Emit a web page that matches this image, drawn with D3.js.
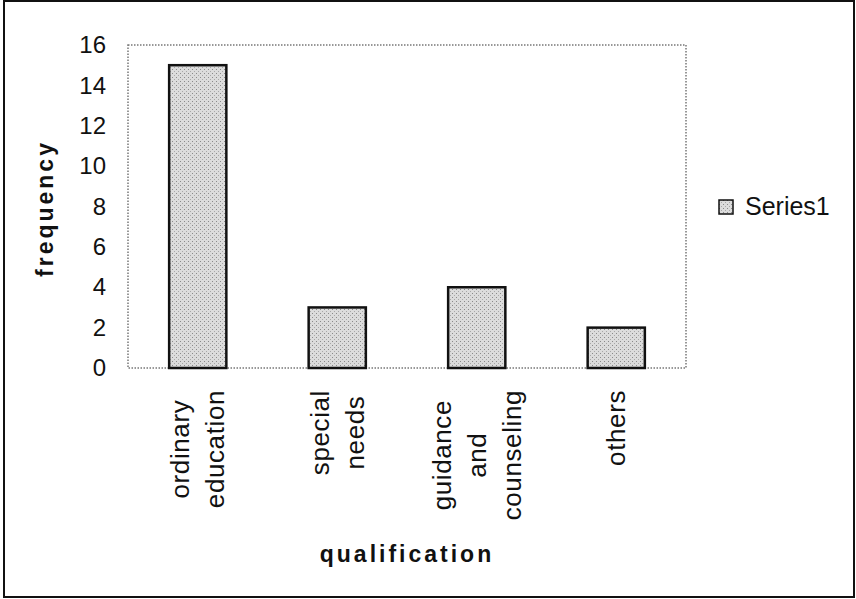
<!DOCTYPE html>
<html>
<head>
<meta charset="utf-8">
<script src="https://cdn.jsdelivr.net/npm/d3@7"></script>
<style>
  body { margin: 0; background: #fff; }
  text { font-family: Arial, "Liberation Sans", sans-serif; fill: #111; }
</style>
</head>
<body>
<svg id="chart"></svg>
<script>
const categories = ["ordinary education", "special needs", "guidance and counseling", "others"]
const labelLines = [["ordinary", "education"], ["special", "needs"], ["guidance", "and", "counseling"], ["others"]]
const frequency = [15, 3, 4, 2]
const yTicks = [0, 2, 4, 6, 8, 10, 12, 14, 16]
const seriesName = "Series1"

function drawChart() {
const svgWidth = 856
const svgHeight = 599
const margin = ({top: 45, right: 170, bottom: 231, left: 128})
const width = svgWidth - margin.left - margin.right
const height = svgHeight - margin.top - margin.bottom

const svg = d3.select("#chart")
    .attr("width", svgWidth)
    .attr("height", svgHeight)

// stippled grey fill like the scanned bars
const defs = svg.append("defs")
const pat = defs.append("pattern")
    .attr("id", "stipple")
    .attr("patternUnits", "userSpaceOnUse")
    .attr("width", 4).attr("height", 4)
pat.append("rect").attr("width", 4).attr("height", 4).attr("fill", "#dcdcdc")
pat.append("rect").attr("x", 0).attr("y", 0).attr("width", 1).attr("height", 1).attr("fill", "#8a8a8a")
pat.append("rect").attr("x", 2).attr("y", 2).attr("width", 1).attr("height", 1).attr("fill", "#a8a8a8")

// outer chart border
svg.append("rect")
    .attr("x", 4).attr("y", 1)
    .attr("width", 850).attr("height", 596)
    .attr("fill", "none")
    .attr("stroke", "#111")
    .attr("stroke-width", 2)

const xScale = d3.scaleBand()
    .domain(categories)
    .range([0, width])
    .paddingInner(0.59)
    .paddingOuter(0.295)

const yScale = d3.scaleLinear()
    .domain([0, 16])
    .range([height, 0])

const g = svg.append("g")
    .attr("transform", `translate(${margin.left}, ${margin.top})`)

// plot area, dotted grey border
g.append("rect")
    .attr("width", width)
    .attr("height", height)
    .attr("fill", "#fff")
    .attr("stroke", "#777")
    .attr("stroke-width", 1.5)
    .attr("stroke-dasharray", "1.5,1.5")

// bars
g.selectAll("rect.bar")
    .data(frequency)
    .join("rect")
    .attr("class", "bar")
    .attr("x", (d, i) => xScale(categories[i]))
    .attr("y", d => yScale(d))
    .attr("width", xScale.bandwidth())
    .attr("height", d => yScale(0) - yScale(d))
    .attr("fill", "url(#stipple)")
    .attr("stroke", "#111")
    .attr("stroke-width", 2.5)

// y axis labels (no tick marks)
const yAxis = g.append("g")
    .call(d3.axisLeft(yScale).tickValues(yTicks).tickSize(0).tickPadding(22))
yAxis.select(".domain").remove()
yAxis.selectAll("text")
    .style("font-size", "24px")
    .style("font-family", "Arial, 'Liberation Sans', sans-serif")
    .attr("fill", "#111")

// category labels, rotated, multi-line centred
const labelTop = height + 22
const labels = g.append("g").selectAll("g.lab")
    .data(categories)
    .join("g")
    .attr("class", "lab")
labels.each(function(c, i) {
    const lines = labelLines[i]
    const grp = d3.select(this)
    const cx = xScale(c) + xScale.bandwidth() / 2
    const lineH = 35
    const t = grp.selectAll("text")
        .data(lines)
        .join("text")
        .attr("text-anchor", "middle")
        .style("font-size", "26px")
        .style("letter-spacing", "0.6px")
        .text(d => d)
    let maxW = 0
    t.each(function() { maxW = Math.max(maxW, this.getComputedTextLength()) })
    const cy = labelTop + maxW / 2
    t.attr("transform", (d, k) => {
        const off = (k - (lines.length - 1) / 2) * lineH
        return `translate(${cx + off + 9}, ${cy}) rotate(-90)`
    })
})

// y axis title
svg.append("text")
    .attr("transform", `translate(53, ${margin.top + height / 2 + 2}) rotate(-90)`)
    .attr("text-anchor", "middle")
    .style("font-size", "23px")
    .style("font-weight", "bold")
    .style("letter-spacing", "3px")
    .text("frequency")

// x axis title
svg.append("text")
    .attr("x", margin.left + width / 2)
    .attr("y", 562)
    .attr("text-anchor", "middle")
    .style("font-size", "23px")
    .style("font-weight", "bold")
    .style("letter-spacing", "3px")
    .text("qualification")

// legend
const legend = svg.append("g")
    .attr("transform", "translate(719, 200)")
legend.append("rect")
    .attr("width", 14).attr("height", 14)
    .attr("fill", "url(#stipple)")
    .attr("stroke", "#111")
    .attr("stroke-width", 1.5)
legend.append("text")
    .attr("x", 26)
    .attr("y", 15)
    .style("font-size", "25px")
    .text(seriesName)
}

drawChart()
</script>
</body>
</html>
